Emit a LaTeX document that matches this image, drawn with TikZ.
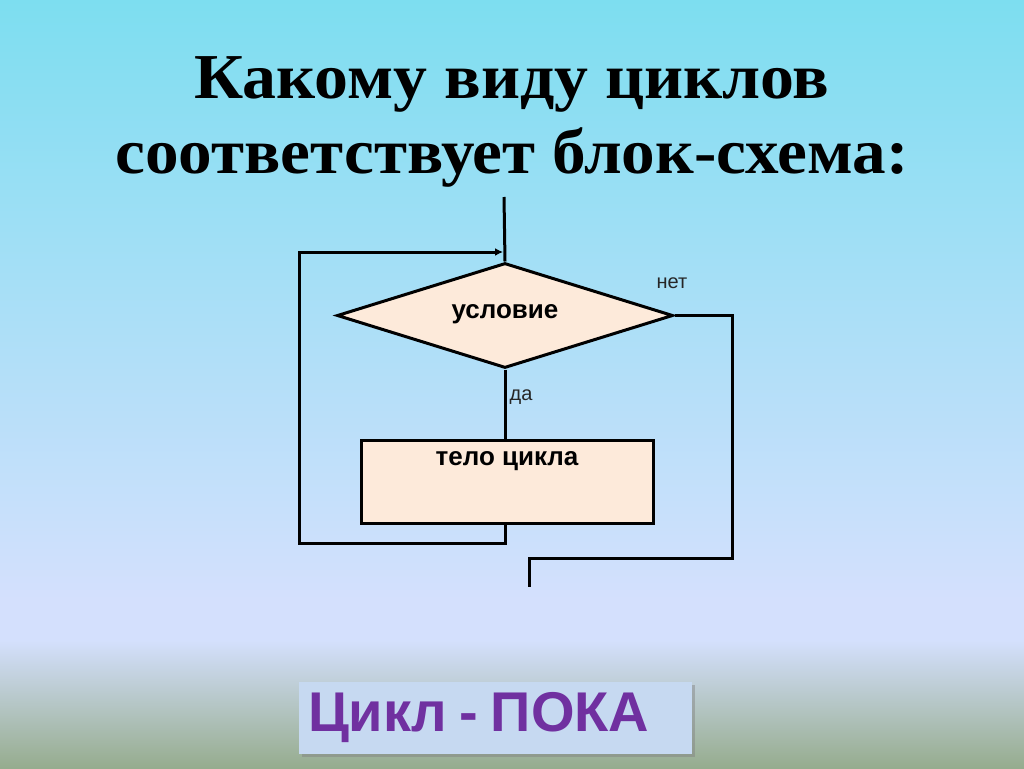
\documentclass[tikz,border=0pt]{standalone}
\usepackage{fontspec}
\setmainfont{Liberation Serif}
\newfontfamily\chartfont{Liberation Sans}
\usetikzlibrary{shapes.geometric,arrows.meta,shadows}
\definecolor{skytop}{RGB}{125,222,240}
\definecolor{skylow}{RGB}{212,224,253}
\definecolor{groundbot}{RGB}{150,172,142}
\definecolor{peach}{RGB}{253,234,218}
\definecolor{answerbg}{RGB}{198,217,241}
\definecolor{answertxt}{RGB}{112,48,160}
\newcommand\tightwords{\spaceskip=0.22em\relax}
\tikzset{>=Latex}

\begin{document}
\begin{tikzpicture}[x=1pt,y=-1pt,
  flow/.style={line width=3pt, black},
  heading/.style={anchor=base, xscale=1.06,
    font=\bfseries\fontsize{64}{75}\selectfont},
  decision/.style={diamond, draw, line width=3pt, fill=peach, aspect=3.2,
    minimum width=336pt, minimum height=105pt, inner sep=0pt,
    font=\chartfont\bfseries\fontsize{26}{28}\selectfont},
  process/.style={rectangle, draw, line width=3pt, fill=peach,
    minimum width=292pt, minimum height=83pt},
  small/.style={font=\chartfont\fontsize{20}{22}\selectfont, text=black!85},
  answer/.style={rectangle, fill=answerbg, text=answertxt,
    drop shadow={shadow xshift=3pt, shadow yshift=-3pt, opacity=0.45},
    minimum width=393pt, minimum height=72pt, inner xsep=9pt,
    text width=375pt, align=left,
    font=\chartfont\bfseries\fontsize{56}{60}\selectfont}]

  % background
  \useasboundingbox (0,0) rectangle (1024,768);
  \shade[top color=skytop, bottom color=skylow] (0,0) rectangle (1024,600);
  \fill[skylow] (0,599) rectangle (1024,640);
  \shade[top color=skylow, bottom color=groundbot] (0,640) rectangle (1024,768);

  % title
  \node[heading] (title1) at (512,98) {Какому виду циклов};
  \node[heading, xscale=0.99] (title2) at (512,173) {соответствует блок-схема:};

  % blocks
  \node[decision] (cond) at (505,315.5) {\raisebox{8pt}{условие}};
  \node[process, label={[below=9pt, font=\chartfont\bfseries\fontsize{26}{28}\selectfont]north:тело цикла}]
    (body) at (507,481.5) {};

  \coordinate (entry) at (504,197);
  \coordinate (backbl) at (299,543);
  \coordinate (backtl) at (299,252);
  \coordinate (join) at (503,252);
  \coordinate (outr) at (732,558);
  \coordinate (outl) at (529,558);
  \coordinate (exit) at (529,587);

  % edges
  \draw[flow] (entry) -- (cond.north);
  \draw[flow] (cond.south) -- (cond.south |- body.north);
  \draw[flow, -{Latex[length=8pt,width=8pt]}] (cond.south |- body.south) |- (backbl) -- (backtl) -- (join);
  \draw[flow] (cond.east) -| (outr) -- (outl) -- (exit);

  \node[small] (no) at (672,283) {нет};
  \node[small] (yes) at (521,397) {да};

  % answer
  \node[answer] (ans) at (495.5,718) {\tightwords Цикл - ПОКА};

\end{tikzpicture}
\end{document}
